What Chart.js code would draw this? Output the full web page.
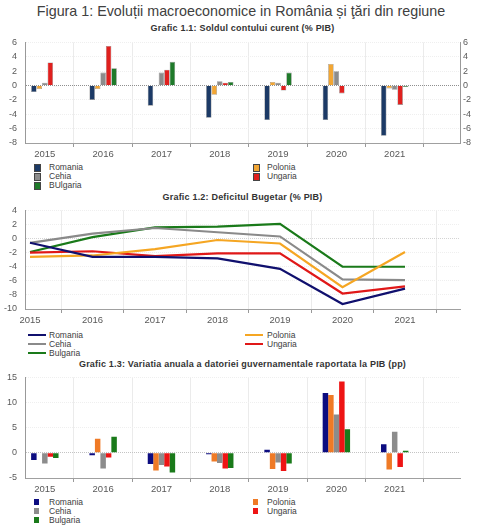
<!DOCTYPE html>
<html>
<head>
<meta charset="utf-8">
<script src="https://cdn.jsdelivr.net/npm/chart.js@4.4.1/dist/chart.umd.min.js"></script>
<style>
  body { margin: 0; background: #fff; font-family: "Liberation Sans", Arial, sans-serif; }
  #page { position: relative; width: 479px; height: 530px; overflow: hidden; }
  .main-title { position: absolute; left: 0; width: 482px; top: 3px; text-align: center; font-size: 14.3px; color: #404040; white-space: nowrap; }
  .ctitle { position: absolute; left: 0; width: 485px; text-align: center; font-size: 9px; font-weight: bold; color: #333; white-space: nowrap; line-height: 11px; letter-spacing: 0.2px; }
  canvas { position: absolute; left: 0; }
  .leg-txt { position: absolute; font-size: 8.5px; color: #404040; line-height: 10px; white-space: nowrap; }
  .leg-mark { position: absolute; }
</style>
</head>
<body>
<div id="page">
  <div class="main-title">Figura 1: Evoluții macroeconomice in România și ţări din regiune</div>

  <div class="ctitle" style="top:23px">Grafic 1.1: Soldul contului curent (% PIB)</div>
  <canvas id="chart1" width="479" height="131" style="top:29px"></canvas>

  <div class="ctitle" style="top:192px">Grafic 1.2: Deficitul Bugetar (% PIB)</div>
  <canvas id="chart2" width="479" height="129" style="top:197px"></canvas>

  <div class="ctitle" style="top:359px">Grafic 1.3: Variatia anuala a datoriei guvernamentale raportata la PIB (pp)</div>
  <canvas id="chart3" width="479" height="131" style="top:364px"></canvas>
</div>

<script>
// categories
const years = [2015, 2016, 2017, 2018, 2019, 2020, 2021];

// Grafic 1.1 - soldul contului curent (% PIB)
const names1 = ['Romania', 'Polonia', 'Cehia', 'Ungaria', 'BUlgaria'];
const contRomania = [-0.9, -2.0, -2.8, -4.5, -4.8, -4.8, -7.0];
const contPolonia = [-0.5, -0.5, -0.1, -1.3, 0.5, 3.0, -0.4];
const contCehia = [0.4, 1.8, 1.8, 0.6, 0.4, 2.0, -0.6];
const contUngaria = [3.2, 5.5, 2.2, 0.4, -0.7, -1.1, -2.7];
const contBulgaria = [-0.1, 2.4, 3.3, 0.5, 1.8, 0.1, -0.2];
const colors1 = ['#1c3a66', '#f2a634', '#8c8c8c', '#e0201e', '#1f7a2a'];

// Grafic 1.2 - deficitul bugetar (% PIB)
const names2 = ['Romania', 'Polonia', 'Cehia', 'Ungaria', 'Bulgaria'];
const defRomania = [-0.6, -2.6, -2.6, -2.8, -4.3, -9.3, -7.1];
const defPolonia = [-2.6, -2.4, -1.5, -0.2, -0.7, -6.9, -1.9];
const defCehia = [-0.6, 0.7, 1.5, 0.9, 0.3, -5.8, -5.9];
const defUngaria = [-2.0, -1.8, -2.5, -2.1, -2.1, -7.8, -6.8];
const defBulgaria = [-1.9, 0.2, 1.6, 1.7, 2.1, -4.0, -4.0];
const colors2 = ['#10106e', '#f5a623', '#8a8a8a', '#e01818', '#1a7a1a'];

// Grafic 1.3 - variatia datoriei guvernamentale (pp)
const names3 = ['Romania', 'Polonia', 'Cehia', 'Ungaria', 'Bulgaria'];
const datRomania = [-1.4, -0.5, -2.2, -0.3, 0.6, 11.9, 1.7];
const datPolonia = [0.1, 2.8, -3.5, -1.7, -3.2, 11.5, -3.3];
const datCehia = [-2.1, -3.1, -2.4, -2.0, -1.9, 7.6, 4.2];
const datUngaria = [-0.8, -0.9, -2.7, -3.1, -3.6, 14.2, -2.8];
const datBulgaria = [-1.0, 3.2, -3.9, -3.0, -2.1, 4.7, 0.4];
const colors3 = ['#0c0c80', '#ef7a26', '#8c8c8c', '#ee1414', '#1a7a1a'];

Chart.defaults.font.family = '"Liberation Sans", Arial, sans-serif';
Chart.defaults.font.size = 9.5;
Chart.defaults.color = '#595959';
Chart.defaults.animation = false;
Chart.defaults.plugins.legend.display = false;
Chart.defaults.plugins.tooltip.enabled = false;

function xAxis(min, max) {
  return {
    type: 'linear',
    min: min,
    max: max,
    offset: false,
    afterBuildTicks: s => { s.ticks = years.map(v => ({ value: v })); },
    afterFit: s => { s.height = 17; },
    ticks: { autoSkip: false, maxRotation: 0, padding: 2, callback: v => String(v) },
    grid: { offset: true, color: '#ebebeb', tickColor: '#999', tickLength: 4 },
    border: { color: '#a0a0a0' }
  };
}

function yAxis(min, max, step, zeroColor) {
  return {
    min: min,
    max: max,
    afterFit: s => { s.width = 25; },
    ticks: { stepSize: step, padding: 8, autoSkip: false, font: { size: 9 } },
    grid: {
      drawTicks: false,
      color: c => c.tick.value === 0 ? zeroColor : '#efefef'
    },
    border: { color: '#999', dash: [1, 1] }
  };
}

function barSets(series, names, colors, border) {
  return series.map((d, i) => ({
    label: names[i],
    data: d,
    backgroundColor: colors[i],
    borderColor: border ? 'rgba(40,40,40,0.55)' : colors[i],
    borderWidth: border ? 0.6 : 0,
    categoryPercentage: 0.47,
    barPercentage: 1
  }));
}

function legend(top, names, colors, kind) {
  const page = document.getElementById('page');
  names.forEach((n, i) => {
    const row = Math.floor(i / 2), col = i % 2;
    const y = top + row * 9;
    const mark = document.createElement('div');
    mark.className = 'leg-mark';
    if (kind === 'line') {
      mark.style.left = (col ? 245 : 28) + 'px';
      mark.style.top = (y - 1) + 'px';
      mark.style.width = '18px';
      mark.style.height = '2px';
      mark.style.background = colors[i];
    } else {
      mark.style.left = (col ? 253 : 34) + 'px';
      mark.style.top = (y - 3) + 'px';
      mark.style.width = '5px';
      mark.style.height = '6px';
      mark.style.background = colors[i];
      if (kind === 'box') mark.style.border = '0.5px solid #444';
    }
    page.appendChild(mark);
    const txt = document.createElement('div');
    txt.className = 'leg-txt';
    txt.style.left = (col ? 267 : 49) + 'px';
    txt.style.top = (y - 5) + 'px';
    txt.textContent = n;
    page.appendChild(txt);
  });
}

// Grafic 1.1
new Chart(document.getElementById('chart1'), {
  type: 'bar',
  data: {
    labels: years,
    datasets: barSets([contRomania, contPolonia, contCehia, contUngaria, contBulgaria], names1, colors1, true)
  },
  options: {
    responsive: false,
    layout: { padding: { top: 8, right: 0, left: 0, bottom: 0 } },
    scales: {
      x: xAxis(2014.66, 2022.12),
      y: yAxis(-8, 6, 2, '#8f8f8f'),
      y2: {
        position: 'right',
        min: -8,
        max: 6,
        afterFit: s => { s.width = 19; },
        ticks: { stepSize: 2, padding: 3, autoSkip: false, font: { size: 9 } },
        grid: { display: false, drawTicks: false },
        border: { color: '#999', dash: [1, 1] }
      }
    }
  }
});
legend(167, names1, colors1, 'box');

// Grafic 1.2
new Chart(document.getElementById('chart2'), {
  type: 'line',
  data: {
    labels: years,
    datasets: [defRomania, defPolonia, defCehia, defUngaria, defBulgaria].map((d, i) => ({
      label: names2[i],
      data: d,
      borderColor: colors2[i],
      backgroundColor: colors2[i],
      borderWidth: 2.2,
      pointRadius: 0,
      tension: 0
    }))
  },
  options: {
    responsive: false,
    layout: { padding: { top: 8, right: 19, left: 0, bottom: 0 } },
    scales: {
      x: xAxis(2014.92, 2021.88),
      y: yAxis(-10, 4, 2, '#d4d4d4')
    }
  }
});
legend(335, names2, colors2, 'line');

// Grafic 1.3
new Chart(document.getElementById('chart3'), {
  type: 'bar',
  data: {
    labels: years,
    datasets: barSets([datRomania, datPolonia, datCehia, datUngaria, datBulgaria], names3, colors3, false)
  },
  options: {
    responsive: false,
    layout: { padding: { top: 8, right: 19, left: 0, bottom: 0 } },
    scales: {
      x: xAxis(2014.66, 2022.12),
      y: yAxis(-5, 15, 5, '#c4c4c4')
    }
  }
});
legend(502, names3, colors3, 'flat');
</script>
</body>
</html>
